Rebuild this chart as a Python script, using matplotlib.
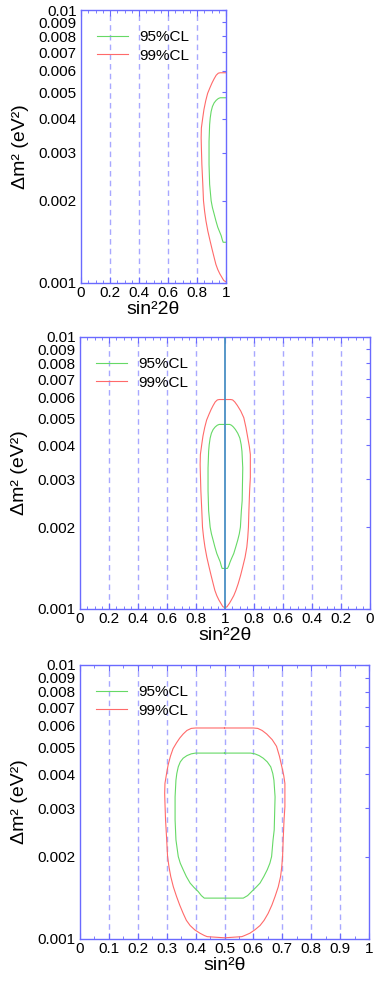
import numpy as np
import matplotlib
matplotlib.use("Agg")
import matplotlib.pyplot as plt
from matplotlib.ticker import FixedLocator, MultipleLocator, NullFormatter

plt.rcParams['font.family'] = ['Liberation Sans', 'DejaVu Sans']

# contour edges read off the sin^2(theta) panel: (sin^2 theta, dm2)
# 99% CL, left edge (top -> bottom) and right edge (top -> bottom)
cl99_left_s = [0.50, 0.40, 0.385, 0.370, 0.357, 0.345, 0.334, 0.322, 0.313, 0.305,
               0.300, 0.294, 0.293, 0.294, 0.296, 0.300, 0.303, 0.308, 0.314, 0.323,
               0.334, 0.345, 0.357, 0.368, 0.381, 0.397, 0.415, 0.43, 0.44, 0.50]
cl99_left_m = [0.00589, 0.00589, 0.00587, 0.00577, 0.00560, 0.00541, 0.00520, 0.00495,
               0.00465, 0.00432, 0.00404, 0.00370, 0.00340, 0.00313, 0.00272, 0.00230,
               0.00200, 0.00183, 0.00169, 0.00155, 0.00143, 0.00133, 0.00124, 0.00117,
               0.00112, 0.00108, 0.00105, 0.00103, 0.00102, 0.00101]
cl99_right_s = [0.50, 0.60, 0.615, 0.630, 0.646, 0.665, 0.680, 0.690, 0.698, 0.705,
                0.709, 0.709, 0.706, 0.703, 0.701, 0.698, 0.694, 0.686, 0.675, 0.664,
                0.651, 0.637, 0.623, 0.605, 0.588, 0.57, 0.56, 0.50]
cl99_right_m = [0.00589, 0.00589, 0.00587, 0.00577, 0.00560, 0.00534, 0.00505, 0.00465,
                0.00427, 0.00395, 0.00370, 0.00304, 0.00272, 0.00230, 0.00200, 0.00183,
                0.00169, 0.00155, 0.00143, 0.00133, 0.00124, 0.00117, 0.00112, 0.00108,
                0.00105, 0.00103, 0.00102, 0.00101]

# 95% CL
cl95_left_s = [0.50, 0.40, 0.385, 0.370, 0.357, 0.347, 0.340, 0.335, 0.332, 0.329,
               0.329, 0.332, 0.340, 0.347, 0.357, 0.368, 0.381, 0.395, 0.409, 0.42,
               0.43, 0.50]
cl95_left_m = [0.00477, 0.00477, 0.00474, 0.00467, 0.00457, 0.00443, 0.00425, 0.00402,
               0.00380, 0.00330, 0.00272, 0.00230, 0.00200, 0.00189, 0.00179, 0.00169,
               0.00160, 0.00154, 0.00149, 0.00144, 0.00141, 0.00141]
cl95_right_s = [0.50, 0.59, 0.605, 0.620, 0.634, 0.648, 0.660, 0.667, 0.671, 0.675,
                0.672, 0.668, 0.663, 0.657, 0.648, 0.636, 0.623, 0.608, 0.594, 0.58,
                0.565, 0.50]
cl95_right_m = [0.00477, 0.00477, 0.00474, 0.00467, 0.00457, 0.00443, 0.00425, 0.00402,
                0.00380, 0.00330, 0.00250, 0.00230, 0.00200, 0.00189, 0.00179, 0.00169,
                0.00160, 0.00154, 0.00149, 0.00144, 0.00141, 0.00141]

y_ticks = [0.001, 0.002, 0.003, 0.004, 0.005, 0.006, 0.007, 0.008, 0.009, 0.01]
y_labels = ['0.001', '0.002', '0.003', '0.004', '0.005', '0.006', '0.007', '0.008', '0.009', '0.01']
x2_ticks = [0, 0.2, 0.4, 0.6, 0.8, 1.0, 1.2, 1.4, 1.6, 1.8, 2.0]
x2_labels = ['0', '0.2', '0.4', '0.6', '0.8', '1', '0.8', '0.6', '0.4', '0.2', '0']

RED = '#ff6a6a'
GREEN = '#66d966'
SPINE = '#6a6aff'
GRID = '#a8a8ff'


def s22(s):
    s = np.asarray(s)
    return 4 * s * (1 - s)


def style(ax, xlim, xmaj, xlabel, xlabels=None):
    ax.set_yscale('log')
    ax.set_ylim(0.001, 0.01)
    ax.set_xlim(*xlim)
    ax.yaxis.set_major_locator(FixedLocator(y_ticks))
    ax.yaxis.set_minor_locator(FixedLocator([]))
    ax.yaxis.set_minor_formatter(NullFormatter())
    ax.set_yticklabels(y_labels)
    if xlabels is None:
        ax.xaxis.set_major_locator(MultipleLocator(xmaj))
        ax.xaxis.set_major_formatter(plt.FuncFormatter(lambda v, p: ('%g' % round(v, 3))))
    else:
        ax.set_xticks(x2_ticks)
        ax.set_xticklabels(xlabels)
    ax.xaxis.set_minor_locator(MultipleLocator(0.05))
    ax.tick_params(axis='y', which='both', left=False, right=True, direction='in',
                   length=3, color=SPINE, labelsize=11, pad=3)
    ax.tick_params(axis='x', which='both', top=True, bottom=True, direction='in',
                   color=SPINE, labelsize=11, pad=2)
    ax.tick_params(axis='x', which='major', length=4)
    ax.tick_params(axis='x', which='minor', length=2.5)
    for sp in ax.spines.values():
        sp.set_color(SPINE)
        sp.set_linewidth(1.0)
    ax.set_ylabel('Δm² (eV²)', fontsize=14, labelpad=7)
    ax.set_xlabel(xlabel, fontsize=14, labelpad=1)


def legend(ax, width_px, height_px):
    leg = ax.legend(loc='upper left', bbox_to_anchor=(16 / width_px, 1 - 20 / height_px),
                    frameon=False, fontsize=11, handlelength=2.0,
                    handletextpad=0.75, labelspacing=0.3, borderpad=0, borderaxespad=0)
    return leg


fig = plt.figure(figsize=(3.74, 9.81), dpi=100)
W, H = 374, 981

# panel 1: sin^2 2theta, 0..1
ax1 = fig.add_axes([81 / W, 1 - 283 / H, 145 / W, 273 / H])
for v in [0.2, 0.4, 0.6, 0.8]:
    ax1.axvline(v, color=GRID, lw=1, ls=(0, (4, 3)), zorder=0)
ax1.plot(s22(cl95_left_s), cl95_left_m, color=GREEN, lw=0.8, label='95%CL')
ax1.plot(s22(cl99_left_s), cl99_left_m, color=RED, lw=0.8, label='99%CL')
style(ax1, (0, 1), 0.2, 'sin²2θ')
legend(ax1, 145, 273)

# panel 2: sin^2 2theta folded at theta = pi/4, 0..1..0
ax2 = fig.add_axes([80 / W, 1 - 609 / H, 290 / W, 272 / H])
for v in [0.2, 0.4, 0.6, 0.8, 1.2, 1.4, 1.6, 1.8]:
    ax2.axvline(v, color=GRID, lw=1, ls=(0, (4, 3)), zorder=0)
ax2.axvline(1.0, color='#4a8fc4', lw=1.3, zorder=3)
ax2.plot(s22(cl95_left_s), cl95_left_m, color=GREEN, lw=0.8, label='95%CL')
ax2.plot(2 - s22(cl95_right_s), cl95_right_m, color=GREEN, lw=0.8)
ax2.plot(s22(cl99_left_s), cl99_left_m, color=RED, lw=0.8, label='99%CL')
ax2.plot(2 - s22(cl99_right_s), cl99_right_m, color=RED, lw=0.8)
style(ax2, (0, 2), 0.2, 'sin²2θ', xlabels=x2_labels)
legend(ax2, 290, 272)

# panel 3: sin^2 theta, 0..1
ax3 = fig.add_axes([80 / W, 1 - 939 / H, 289 / W, 274 / H])
for v in np.arange(0.1, 1.0, 0.1):
    ax3.axvline(v, color=GRID, lw=1, ls=(0, (4, 3)), zorder=0)
ax3.plot(cl95_left_s + cl95_right_s[::-1], cl95_left_m + cl95_right_m[::-1],
         color=GREEN, lw=0.8, label='95%CL')
ax3.plot(cl99_left_s + cl99_right_s[::-1], cl99_left_m + cl99_right_m[::-1],
         color=RED, lw=0.8, label='99%CL')
style(ax3, (0, 1), 0.1, 'sin²θ')
legend(ax3, 289, 274)

fig.savefig('out.png', dpi=100)
